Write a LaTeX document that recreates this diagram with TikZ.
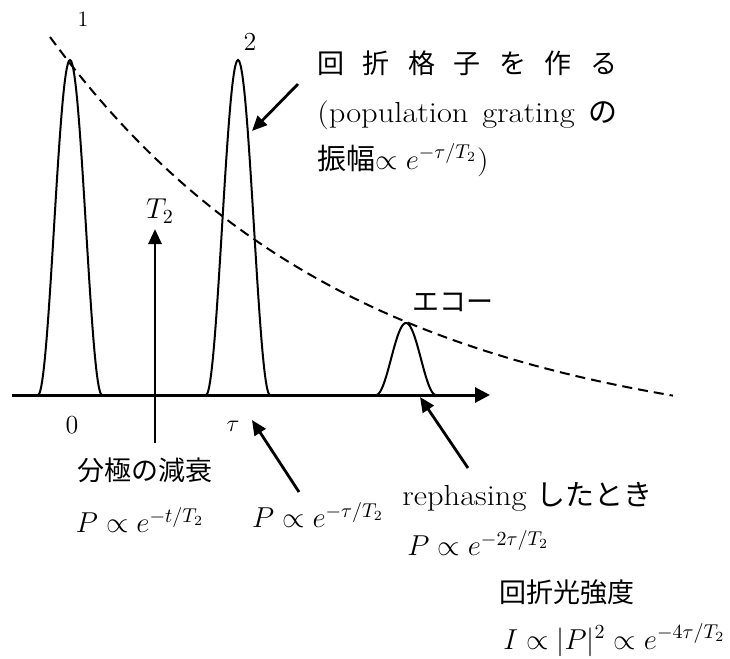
\documentclass[tikz,border=0pt]{standalone}
\usepackage{fontspec}
\newfontfamily\jp{Noto Sans CJK JP}
\newfontfamily\wide{Latin Modern Roman}[FakeStretch=1.12]
\usetikzlibrary{arrows.meta,positioning}

\begin{document}
\begin{tikzpicture}[x=0.5pt,y=-0.5pt,
    pulse/.style={line width=1pt},
    env/.style={line width=1pt,dash pattern=on 5pt off 3pt},
    ptr/.style={-{Triangle[length=7.5pt,width=6.5pt]},line width=1.4pt},
    axis/.style={-{Triangle[length=7.5pt,width=7.5pt]},line width=1.5pt},
    num/.style={font=\fontsize{13}{16}\selectfont,inner sep=0pt},
    lbl/.style={font=\fontsize{14.5}{17}\selectfont\wide,inner sep=0pt},
    jlbl/.style={font=\fontsize{13.5}{16}\selectfont\jp,inner sep=0pt},
    eq/.style={font=\fontsize{14.5}{17}\selectfont,inner sep=0pt}]
  \useasboundingbox (0,0) rectangle (730,659);
  % time axis
  \coordinate (t0) at (12,395);
  \coordinate (tend) at (490,395);
  \draw[axis] (t0) -- (tend);
  % pulses 1, 2 and the echo
  \draw[pulse] plot[domain=-32:32,samples=61] ({70+\x},{395-335*(cos(90*\x/32))^2});
  \draw[pulse] plot[domain=-32:32,samples=61] ({238+\x},{395-335*(cos(90*\x/32))^2});
  \draw[pulse] plot[domain=-30:30,samples=61] ({406+\x},{395-72*(cos(90*\x/30))^2});
  % decay envelope
  \draw[env] plot[domain=50:673,samples=90] (\x,{447-410*exp(-(\x-50)/300)});

  \node[num,font=\fontsize{11}{13}\selectfont] (n1) at (83,19) {1};
  \node[num] (n2) at (250,42) {2};
  \node[eq] (T2) at (160,211) {$T_2$};
  \node[num] (zero) at (72,425) {0};
  \node[num] (tau) at (233,426) {$\tau$};
  \node[jlbl] (echo) at (453,302) {エコー};

  \node[jlbl,anchor=west] (grat1) at (317,63)
    {\makebox[150pt]{回\hfill 折\hfill 格\hfill 子\hfill を\hfill 作\hfill る}};
  \node[lbl,anchor=west] (grat2) at (317,115)
    {\makebox[150pt]{(population\hfill grating\hfill {\jp の}}};
  \node[lbl,anchor=west] (grat3) at (317,160)
    {{\jp 振幅}$\propto e^{-\tau/T_2}$)};

  \node[jlbl] (pdecay) at (145,470) {分極の減衰};
  \node[eq] (peq1) at (140,520) {$P\propto e^{-t/T_2}$};
  \node[eq] (peq2) at (318,515) {$P\propto e^{-\tau/T_2}$};
  \node[lbl,anchor=west] (reph) at (402,497) {rephasing {\jp したとき}};
  \node[eq,anchor=west] (peq3) at (407,543) {$P\propto e^{-2\tau/T_2}$};
  \node[jlbl] (diffr) at (567,592) {回折光強度};
  \node[eq,anchor=west] (ieq) at (503,640) {$I\propto|P|^2\propto e^{-4\tau/T_2}$};

  % pointers
  \coordinate (gtail) at (298,84);
  \coordinate (gtip) at (252,131);
  \coordinate (vtail) at (155,443);
  \coordinate (vtip) at (155,229);
  \coordinate (ttail) at (299,492);
  \coordinate (ttip) at (252,420);
  \coordinate (etail) at (468,468);
  \coordinate (etip) at (420,397);
  \draw[ptr] (gtail) -- (gtip);
  \draw[ptr] (vtail) -- (vtip);
  \draw[ptr] (ttail) -- (ttip);
  \draw[ptr] (etail) -- (etip);
\end{tikzpicture}
\end{document}
